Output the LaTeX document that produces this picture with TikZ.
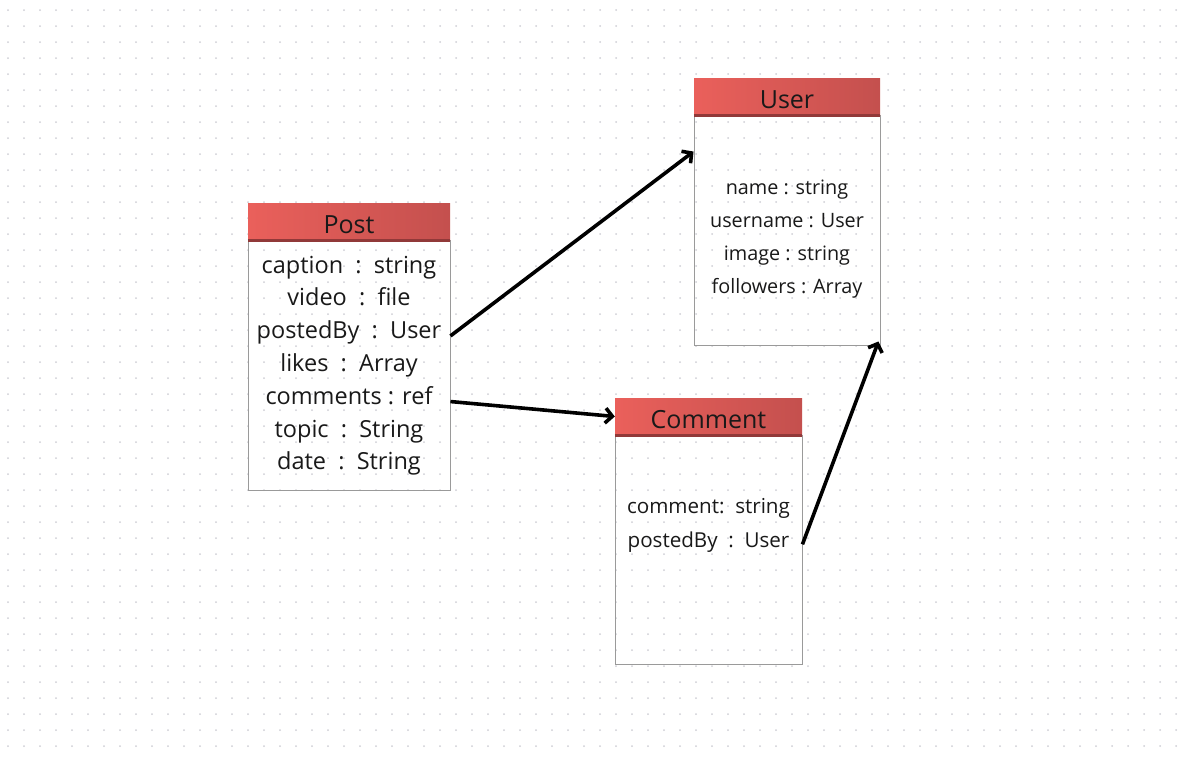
\documentclass[tikz,border=0pt]{standalone}
\usepackage{fontspec}
\setmainfont{Open Sans}
\usepackage{xcolor}
\usetikzlibrary{arrows.meta,shapes,backgrounds,fit,positioning,calc}

\definecolor{headL}{HTML}{EA605B}
\definecolor{headR}{HTML}{C4504E}
\definecolor{headband}{HTML}{913939}
\definecolor{dotgrey}{HTML}{CFCFD6}
\definecolor{boxline}{HTML}{9A9A9A}

\begin{document}
\begin{tikzpicture}[x=1pt,y=-1pt]
      \tikzstyle{head}=[draw=none, left color=headL, right color=headR, minimum height=37pt, inner sep=0pt, text=black!90, text height=25pt, text depth=2pt, font=\fontsize{25}{29}\selectfont]
      \tikzstyle{band}=[draw=headband, line width=3pt]
      \tikzstyle{body}=[draw=boxline, line width=0.9pt, inner sep=0pt]
      \tikzstyle{field}=[inner sep=0pt, text height=12pt, text depth=4pt, text=black!90]
      \tikzstyle{link}=[line width=3.6pt, -{Straight Barb[length=7pt,width=15pt]}]

      % dotted canvas
      \useasboundingbox (0,0) rectangle (1189,756);
      \fill [white] (0,0) rectangle (1189,756);
      \foreach \x in {8,24,...,1188}
        \foreach \y in {10,26,...,756}
          \fill [dotgrey] (\x,\y) circle (1pt);

      \begin{scope}[node distance=32.8pt, font=\fontsize{23.5}{27}\selectfont]
        \node [body, minimum width=202pt, minimum height=250pt] (postbox) at (349,365) {};
        \node [head, minimum width=202pt] (posthead) at (349,221.5) {Post};
        \draw [band] (posthead.south west) -- (posthead.south east);

        \node [field] (caption) at (349,269) {caption\ \ :\ \ string};
        \node [field] (video) [below of=caption] {video\ \ :\ \ file};
        \node [field] (postedby) [below of=video] {postedBy\ \ :\ \ User};
        \node [field] (likes) [below of=postedby] {likes\ \ :\ \ Array};
        \node [field] (comments) [below of=likes] {comments : ref};
        \node [field] (topic) [below of=comments] {topic\ \ :\ \ String};
        \node [field] (date) [below of=topic] {date\ \ :\ \ String};
      \end{scope}

      \begin{scope}[node distance=33.3pt, font=\fontsize{19.8}{23}\selectfont]
        \node [body, minimum width=186pt, minimum height=230pt] (userbox) at (787,230) {};
        \node [head, minimum width=186pt] (userhead) at (787,96.5) {User};
        \draw [band] (userhead.south west) -- (userhead.south east);

        \node [field] (name) at (787,190) {name : string};
        \node [field] (username) [below of=name] {username : User};
        \node [field] (image) [below of=username] {image : string};
        \node [field] (followers) [below of=image] {followers : Array};
      \end{scope}

      \begin{scope}[node distance=34pt, font=\fontsize{20.6}{24}\selectfont]
        \node [body, minimum width=187pt, minimum height=229pt] (commentbox) at (708.5,549.5) {};
        \node [head, minimum width=187pt] (commenthead) at (708.5,416.5) {Comment};
        \draw [band] (commenthead.south west) -- (commenthead.south east);

        \node [field] (comment) at (708.5,509) {comment:\ \ string};
        \node [field] (cpostedby) [below of=comment] {postedBy\ \ :\ \ User};
      \end{scope}

      % references
      \coordinate (userin) at ($(userbox.north west)+(0,37)$);
      \coordinate (userfoot) at ($(userbox.south east)+(-2,-4)$);
      \draw [link] (postedby.mid -| postbox.east) -- (userin);
      \draw [link] (comments.mid -| postbox.east) -- (commenthead.west);
      \draw [link] (cpostedby.mid -| commentbox.east) -- (userfoot);
\end{tikzpicture}
\end{document}
